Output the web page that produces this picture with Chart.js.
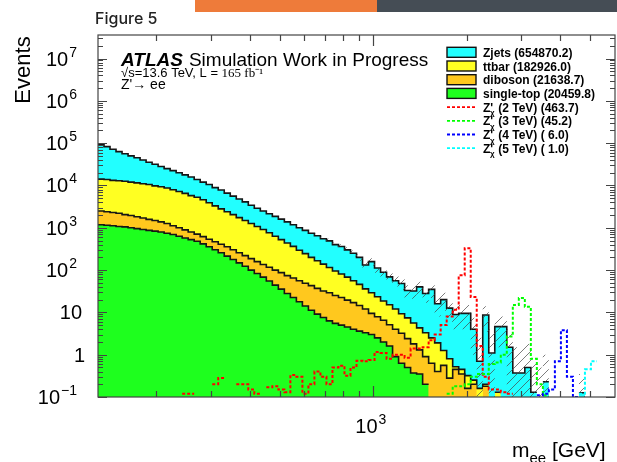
<!DOCTYPE html>
<html>
<head>
<meta charset="utf-8">
<script src="https://cdn.jsdelivr.net/npm/chart.js@4.4.0/dist/chart.umd.min.js"></script>
<style>
  html, body { margin: 0; padding: 0; background: #fff; }
  canvas { display: block; }
</style>
</head>
<body>
<canvas id="chart_mee" width="617" height="462"></canvas>
<script>
// binning of the m_ee histogram (log spaced bins)
var binLowEdge = 130;
var binHighEdge = 6000;
var nBins = 86;

// stacked heights (top of each layer, events per bin)
var stackZjets = [
  95000, 83000, 72000, 63000, 56000, 50000, 45000, 40000, 35500, 31600,
  28000, 25000, 22400, 20000, 17800, 15800, 13800, 12000, 10500, 8900,
  7800, 6600, 5600, 4800, 4100, 3400, 2900, 2500, 2150, 1860,
  1600, 1380, 1180, 1000, 870, 740, 650, 550, 490, 400,
  360, 300, 250, 200, 132, 158, 112, 89, 69, 56,
  48, 33, 32, 40, 28, 35, 16, 20, 12.6, 8.9,
  9.5, 9.5, 4, 0.7, 8.7, 1.1, 4.6, 4.6, 1.5, 0.37,
  0.37, 0.5, 0.13, 0, 0.23, 0, 0, 0, 0, 0,
  0.126, 0, 0, 0, 0, 0
];
var stackTtbar = [
  14100, 13800, 13200, 12900, 12600, 12000, 11500, 11000, 10500, 9800,
  9300, 8700, 7900, 7200, 6500, 5750, 5250, 4600, 3900, 3300,
  2800, 2400, 2050, 1740, 1480, 1260, 1070, 910, 760, 630,
  525, 436, 363, 295, 245, 200, 166, 138, 115, 95,
  81, 68, 56, 46, 36, 29, 23.4, 18.6, 15.1, 12,
  9.3, 7.4, 5.6, 4.3, 3.3, 2.5, 1.9, 1.26, 0.8, 0.52,
  0.45, 0.32, 0.25, 0.16, 0.2, 0, 0.13, 0, 0, 0,
  0, 0, 0, 0, 0, 0, 0, 0, 0, 0,
  0, 0, 0, 0, 0, 0
];
var stackDiboson = [
  2500, 2400, 2300, 2200, 2050, 1950, 1820, 1700, 1580, 1480,
  1380, 1260, 1120, 1000, 890, 795, 708, 617, 537, 468,
  407, 355, 302, 257, 219, 186, 158, 135, 117, 100,
  87, 74, 65, 56, 49, 43, 37, 32, 29, 25,
  22.4, 19.5, 17, 14.5, 12, 9.5, 7.9, 6.5, 5.1, 4,
  3.2, 2.4, 1.8, 1.3, 0.9, 0.63, 0.4, 0.56, 0.28, 0.45,
  0.35, 0.16, 0.2, 0, 0.18, 0, 0, 0, 0, 0,
  0, 0, 0, 0, 0, 0, 0, 0, 0, 0,
  0, 0, 0, 0, 0, 0
];
var stackSingleTop = [
  1175, 1150, 1120, 1070, 1050, 1000, 955, 912, 870, 832,
  794, 741, 692, 631, 575, 525, 479, 417, 355, 302,
  257, 214, 178, 148, 123, 100, 83, 68, 55, 44,
  35.5, 28, 22.4, 17.8, 14.1, 11.2, 9.1, 7.6, 6.3, 5.5,
  5.0, 4.5, 4.0, 3.6, 3.3, 3.0, 2.5, 2.0, 1.6, 0.9,
  0.63, 0.5, 0.37, 0.35, 0.2, 0, 0, 0, 0, 0,
  0, 0, 0, 0, 0, 0, 0, 0, 0, 0,
  0, 0, 0, 0, 0, 0, 0, 0, 0, 0,
  0, 0, 0, 0, 0, 0
];

// background uncertainty band (hatched), from bin 36 on
var uncFirstBin = 36;
var uncUp = [
  720, 615, 550, 450, 410, 345, 290, 235, 160, 190,
  137, 110, 87, 71, 62, 44, 43, 53, 39, 48,
  24, 29, 19, 14, 15, 15, 7.5, 2.5, 14, 4,
  8, 8, 4, 1.5, 1.5, 1.8, 0.8, 0.5, 1.0, 0,
  0, 0, 0, 0, 0.35, 0, 0, 0, 0, 0
];
var uncDown = [
  580, 490, 430, 350, 310, 255, 210, 165, 105, 126,
  87, 68, 51, 41, 34, 22, 21, 27, 17, 22,
  8, 11, 6, 4, 4, 4, 1, 0.1, 3.5, 0.1,
  1.5, 1.5, 0.1, 0.1, 0.1, 0.1, 0.1, 0.1, 0.1, 0,
  0, 0, 0, 0, 0.1, 0, 0, 0, 0, 0
];

// Z' signals (not stacked)
var zp2TeV = [
  0, 0, 0, 0, 0, 0, 0, 0, 0, 0,
  0, 0, 0, 0, 0.12, 0.12, 0, 0, 0, 0.2,
  0.28, 0, 0, 0.2, 0.2, 0.15, 0.12, 0, 0.17, 0.18,
  0.15, 0.13, 0.33, 0.3, 0.12, 0.2, 0.4, 0.3, 0.2, 0.5,
  0.55, 0.32, 0.5, 0.72, 0.7, 0.75, 1.15, 1.1, 0.8, 1.0,
  1.0, 0.85, 1.4, 1.4, 1.5, 2.2, 3.0, 5.0, 8.0, 11.5,
  75, 330, 23, 1.6, 0.3, 0.15, 0.15, 0.13, 0.12, 0,
  0, 0, 0, 0, 0, 0, 0, 0, 0, 0,
  0, 0, 0, 0, 0, 0
];
var zp3TeV = [
  0, 0, 0, 0, 0, 0, 0, 0, 0, 0,
  0, 0, 0, 0, 0, 0, 0, 0, 0, 0,
  0, 0, 0, 0, 0, 0, 0, 0, 0, 0,
  0, 0, 0, 0, 0, 0, 0, 0, 0, 0,
  0, 0, 0, 0, 0, 0, 0, 0, 0, 0,
  0, 0, 0, 0, 0, 0, 0, 0, 0.12, 0.18,
  0.18, 0.2, 0.3, 0.35, 0.35, 0.6, 0.65, 1.0, 2.7, 15,
  22, 13.5, 0.8, 0.2, 0.11, 0, 0, 0, 0, 0,
  0, 0, 0, 0, 0, 0
];
var zp4TeV = [
  0, 0, 0, 0, 0, 0, 0, 0, 0, 0,
  0, 0, 0, 0, 0, 0, 0, 0, 0, 0,
  0, 0, 0, 0, 0, 0, 0, 0, 0, 0,
  0, 0, 0, 0, 0, 0, 0, 0, 0, 0,
  0, 0, 0, 0, 0, 0, 0, 0, 0, 0,
  0, 0, 0, 0, 0, 0, 0, 0, 0, 0,
  0, 0, 0, 0, 0, 0, 0, 0, 0, 0,
  0, 0, 0, 0.11, 0.12, 0.15, 0.7, 3.8, 0.3, 0.1,
  0, 0, 0, 0, 0, 0
];
var zp5TeV = [
  0, 0, 0, 0, 0, 0, 0, 0, 0, 0,
  0, 0, 0, 0, 0, 0, 0, 0, 0, 0,
  0, 0, 0, 0, 0, 0, 0, 0, 0, 0,
  0, 0, 0, 0, 0, 0, 0, 0, 0, 0,
  0, 0, 0, 0, 0, 0, 0, 0, 0, 0,
  0, 0, 0, 0, 0, 0, 0, 0, 0, 0,
  0, 0, 0, 0, 0, 0, 0, 0, 0, 0,
  0, 0, 0, 0, 0, 0, 0, 0, 0, 0,
  0.12, 0.45, 0.7, 0, 0, 0
];

// legend entries
var legendBkg = [
  { label: 'Zjets (654870.2)', color: '#22ffff' },
  { label: 'ttbar (182926.0)', color: '#ffff22' },
  { label: 'diboson (21638.7)', color: '#ffc81e' },
  { label: 'single-top (20459.8)', color: '#1eff1e' }
];
var legendSig = [
  { mass: '(2 TeV) (463.7)', color: '#ff0000' },
  { mass: '(3 TeV) (45.2)', color: '#00ff00' },
  { mass: '(4 TeV) ( 6.0)', color: '#0000ff' },
  { mass: '(5 TeV) ( 1.0)', color: '#00ffff' }
];

var yDecades = [-1, 0, 1, 2, 3, 4, 5, 6, 7];
var xMinorTicks = [200, 300, 400, 500, 600, 700, 800, 900, 2000, 3000, 4000, 5000];
var xMajorTicks = [1000];

var HELV = '"Liberation Sans", Arial, Helvetica, sans-serif';

// bin edges
var edges = [];
for (var i = 0; i <= nBins; i++) {
  edges.push(binLowEdge * Math.pow(binHighEdge / binLowEdge, i / nBins));
}

function histPoints(vals, first) {
  first = first || 0;
  var pts = [];
  for (var i = 0; i < vals.length; i++) {
    pts.push({ x: edges[first + i], y: vals[i] });
    pts.push({ x: edges[first + i + 1], y: vals[i] });
  }
  return pts;
}

function bkgDataset(vals, color) {
  return {
    data: histPoints(vals),
    borderColor: '#151515',
    borderWidth: 1.6,
    backgroundColor: color,
    fill: 'start',
    pointRadius: 0,
    tension: 0
  };
}

function sigDataset(vals, color) {
  return {
    data: histPoints(vals),
    borderColor: color,
    borderWidth: 2,
    borderDash: [3, 2],
    fill: false,
    pointRadius: 0,
    tension: 0
  };
}

// hatch pattern like ROOT style 3354 (sparse diagonal strokes)
function hatchPattern() {
  var c = document.createElement('canvas');
  c.width = 9; c.height = 9;
  var g = c.getContext('2d');
  g.strokeStyle = 'rgba(70,70,70,0.7)';
  g.lineWidth = 1;
  g.beginPath();
  g.moveTo(0, 9); g.lineTo(9, 0);
  g.stroke();
  return g.createPattern(c, 'repeat');
}

function txt(ctx, s, x, y, font, align, base, color) {
  ctx.font = font;
  ctx.textAlign = align || 'left';
  ctx.textBaseline = base || 'alphabetic';
  ctx.fillStyle = color || '#000';
  ctx.fillText(s, x, y);
  return ctx.measureText(s).width;
}

// frame, ticks, labels, legend, header
var decorPlugin = {
  id: 'decor',
  afterDatasetsDraw: function (chart) {
    var ctx = chart.ctx;
    var a = chart.chartArea;
    var xs = chart.scales.x;
    var ys = chart.scales.y;
    ctx.save();
    ctx.strokeStyle = '#444';
    ctx.lineWidth = 1.2;
    ctx.strokeRect(a.left, a.top, a.right - a.left, a.bottom - a.top);

    // y ticks both sides
    ctx.beginPath();
    for (var d = -1; d <= 7; d++) {
      for (var m = 1; m <= 9; m++) {
        var v = m * Math.pow(10, d);
        if (v < ys.min || v > ys.max) continue;
        var py = Math.round(ys.getPixelForValue(v)) + 0.5;
        var len = (m === 1) ? 9 : 5;
        ctx.moveTo(a.left, py); ctx.lineTo(a.left + len, py);
        ctx.moveTo(a.right, py); ctx.lineTo(a.right - len, py);
      }
    }
    // x ticks top and bottom
    xMinorTicks.forEach(function (t) {
      var px = Math.round(xs.getPixelForValue(t)) + 0.5;
      ctx.moveTo(px, a.top); ctx.lineTo(px, a.top + 6);
      ctx.moveTo(px, a.bottom); ctx.lineTo(px, a.bottom - 6);
    });
    xMajorTicks.forEach(function (t) {
      var px = Math.round(xs.getPixelForValue(t)) + 0.5;
      ctx.moveTo(px, a.top); ctx.lineTo(px, a.top + 11);
      ctx.moveTo(px, a.bottom); ctx.lineTo(px, a.bottom - 11);
    });
    ctx.stroke();
    ctx.restore();
  },
  afterDraw: function (chart) {
    var ctx = chart.ctx;
    var xs = chart.scales.x;
    var ys = chart.scales.y;
    ctx.save();

    // header bars + figure caption
    ctx.fillStyle = '#ee7b3a';
    ctx.fillRect(195, 0, 182, 12);
    ctx.fillStyle = '#454d55';
    ctx.fillRect(377, 0, 240, 12);
    txt(ctx, 'Figure 5', 95, 24, '500 16px Inter, "Noto Sans", sans-serif', 'left', 'alphabetic', '#222');

    // y tick labels
    yDecades.forEach(function (d) {
      var py = ys.getPixelForValue(Math.pow(10, d));
      if (d === 0) {
        txt(ctx, '1', 85, py + 7, '20px ' + HELV, 'right');
      } else if (d === 1) {
        txt(ctx, '10', 82, py + 7, '20px ' + HELV, 'right');
      } else {
        var sup = d < 0 ? '\u2212' + (-d) : String(d);
        ctx.font = '14px ' + HELV;
        var sw = ctx.measureText(sup).width;
        var right = 77;
        txt(ctx, sup, right, py - 2, '14px ' + HELV, 'right');
        txt(ctx, '10', right - sw - 1, py + 7, '20px ' + HELV, 'right');
      }
    });

    // x tick label 10^3
    var px3 = xs.getPixelForValue(1000);
    var w10 = txt(ctx, '10', px3 - 18, 433, '20px ' + HELV, 'left');
    txt(ctx, '3', px3 - 18 + w10 + 1, 424, '14px ' + HELV, 'left');

    // axis titles
    ctx.save();
    ctx.translate(30, 70);
    ctx.rotate(-Math.PI / 2);
    txt(ctx, 'Events', 0, 0, '22px ' + HELV, 'center', 'alphabetic');
    ctx.restore();
    var xx = 512;
    xx += txt(ctx, 'm', xx, 457, '21px ' + HELV, 'left');
    xx += txt(ctx, 'ee', xx, 463, '15px ' + HELV, 'left');
    txt(ctx, ' [GeV]', xx, 457, '21px ' + HELV, 'left');

    // ATLAS label
    var ax = 121;
    var w = txt(ctx, 'ATLAS', ax, 66, 'italic bold 19px ' + HELV, 'left');
    txt(ctx, 'Simulation Work in Progress', ax + w + 6, 66, '19px ' + HELV, 'left');
    var w2 = txt(ctx, '\u221As=13.6 TeV, L = ', ax, 77, '13px ' + HELV, 'left');
    txt(ctx, '165 fb\u207B\u00B9', ax + w2, 77, '13px "Liberation Serif", "Times New Roman", serif', 'left');
    txt(ctx, 'Z\'\u2192 ee', ax, 89, '14px ' + HELV, 'left');

    // legend
    var lx = 447, ly = 52.3, step = 13.7;
    legendBkg.forEach(function (e, k) {
      var cy = ly + k * step;
      ctx.fillStyle = e.color;
      ctx.fillRect(lx, cy - 5, 29, 10);
      ctx.strokeStyle = '#111';
      ctx.lineWidth = 1.4;
      ctx.strokeRect(lx, cy - 5, 29, 10);
      txt(ctx, e.label, 483, cy + 4.5, 'bold 12px ' + HELV, 'left');
    });
    legendSig.forEach(function (e, k) {
      var cy = ly + (k + 4) * step;
      ctx.strokeStyle = e.color;
      ctx.lineWidth = 1.8;
      ctx.setLineDash([3, 2]);
      ctx.beginPath();
      ctx.moveTo(lx, cy); ctx.lineTo(lx + 29, cy);
      ctx.stroke();
      ctx.setLineDash([]);
      var wz = txt(ctx, 'Z\'', 483, cy + 4.5, 'bold 12px ' + HELV, 'left');
      txt(ctx, '\u03C7', 490, cy + 8, 'bold 8px ' + HELV, 'left');
      txt(ctx, e.mass, 483 + wz + 5, cy + 4.5, 'bold 12px ' + HELV, 'left');
    });

    ctx.restore();
  }
};

var chart_mee = new Chart(document.getElementById('chart_mee'), {
  type: 'line',
  data: {
    datasets: [
      sigDataset(zp5TeV, '#00ffff'),
      sigDataset(zp4TeV, '#0000ff'),
      sigDataset(zp3TeV, '#00ff00'),
      sigDataset(zp2TeV, '#ff0000'),
      {
        data: histPoints(uncUp, uncFirstBin),
        borderWidth: 0,
        borderColor: 'rgba(0,0,0,0)',
        backgroundColor: hatchPattern(),
        fill: '+1',
        pointRadius: 0,
        tension: 0
      },
      {
        data: histPoints(uncDown, uncFirstBin),
        borderWidth: 0,
        borderColor: 'rgba(0,0,0,0)',
        fill: false,
        pointRadius: 0,
        tension: 0
      },
      bkgDataset(stackSingleTop, legendBkg[3].color),
      bkgDataset(stackDiboson, legendBkg[2].color),
      bkgDataset(stackTtbar, legendBkg[1].color),
      bkgDataset(stackZjets, legendBkg[0].color)
    ]
  },
  options: {
    responsive: false,
    animation: false,
    devicePixelRatio: 1,
    layout: { padding: { left: 98, right: 2, top: 35, bottom: 65 } },
    plugins: { legend: { display: false }, tooltip: { enabled: false } },
    scales: {
      x: { type: 'logarithmic', min: binLowEdge, max: binHighEdge, display: false },
      y: { type: 'logarithmic', min: 0.1, max: 3.6e7, display: false }
    }
  },
  plugins: [decorPlugin]
});
</script>
</body>
</html>
